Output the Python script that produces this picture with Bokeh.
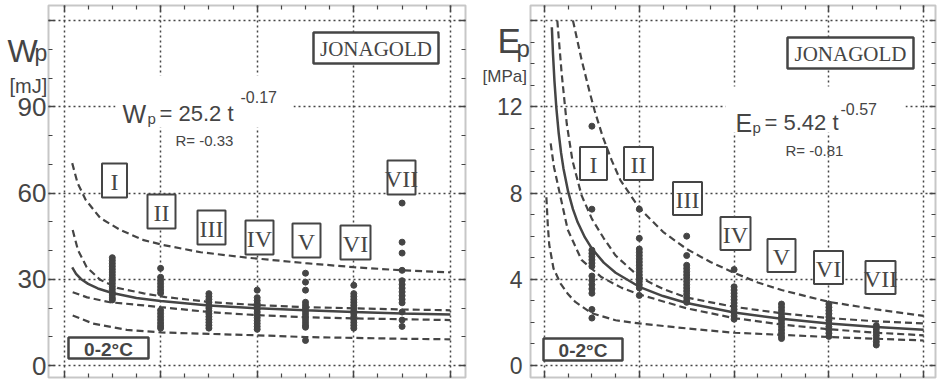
from bokeh.plotting import figure
from bokeh.layouts import row
from bokeh.models import Range1d, LinearAxis, FixedTicker, Label, BoxAnnotation, ColumnDataSource
from bokeh.core.properties import value
from bokeh.embed import file_html
from bokeh.resources import INLINE

# ---------------- data ----------------
stage_names = ["I", "II", "III", "IV", "V", "VI", "VII"]
stage_time = [1, 2, 3, 4, 5, 6, 7]

# Left: puncture energy Wp [mJ] per storage stage
wp_I = [37.5, 36.5, 35.5, 34.5, 33.5, 32.5, 31.5, 30.5, 29.5, 28.5, 27.5, 26.5, 25.5, 24.5, 23.5, 22.8]
wp_II = [33.8, 30.7, 29.6, 28.5, 27.4, 26.3, 25.2, 19.2, 18.1, 17.0, 15.9, 14.8, 13.8, 13.0]
wp_III = [25.0, 24.0, 23.0, 22.0, 21.0, 20.0, 19.0, 18.0, 17.0, 16.0, 15.0, 14.0, 13.0]
wp_IV = [26.2, 23.6, 22.6, 21.6, 20.6, 19.6, 18.6, 17.6, 16.6, 15.6, 14.6, 13.6, 12.6]
wp_V = [32.1, 29.0, 26.2, 22.0, 21.0, 20.0, 19.0, 18.0, 17.0, 16.0, 15.0, 14.0, 13.3, 8.7]
wp_VI = [27.9, 25.0, 24.0, 23.0, 22.0, 21.0, 20.0, 19.0, 18.0, 17.0, 16.0, 15.0, 14.0, 13.0]
wp_VII = [56.5, 42.9, 39.1, 33.1, 29.5, 28.2, 26.9, 25.6, 24.3, 23.0, 21.8, 18.6, 15.8, 13.6]
wp_points = [wp_I, wp_II, wp_III, wp_IV, wp_V, wp_VI, wp_VII]

# Left: fitted curve Wp = 25.2 t^-0.17 and its bands
wp_fit_t = [0.17, 0.25, 0.35, 0.5, 0.7, 1.0, 1.5, 2, 3, 4, 5, 6, 7, 8]
wp_fit = [34.1, 31.9, 30.1, 28.4, 26.8, 25.2, 23.5, 22.4, 20.9, 19.9, 19.2, 18.6, 18.1, 17.7]
wp_up_pred_t = [0.17, 0.28, 0.45, 0.75, 1.17, 1.65, 2.06, 2.83, 3.8, 5.0, 6.0, 7.0, 8.0]
wp_up_pred = [70.4, 63.5, 57.6, 51.3, 47.1, 43.6, 41.9, 39.4, 37.5, 35.6, 34.2, 33.1, 32.4]
wp_up_conf_t = [0.18, 0.29, 0.47, 0.75, 1.1, 1.65, 2.1, 3.0, 4.0, 5.0, 6.0, 7.0, 8.0]
wp_up_conf = [47.1, 40.1, 34.2, 29.8, 27.0, 25.1, 23.8, 22.1, 21.0, 20.3, 19.9, 19.5, 19.2]
wp_lo_conf_t = [0.18, 0.48, 0.95, 1.65, 2.0, 3.0, 4.0, 5.0, 6.0, 7.0, 8.0]
wp_lo_conf = [25.5, 23.7, 22.0, 20.9, 20.3, 18.6, 17.5, 16.8, 16.4, 16.1, 15.8]
wp_lo_pred_t = [0.18, 0.6, 1.3, 2.0, 3.0, 4.0, 5.0, 6.0, 7.0, 8.0]
wp_lo_pred = [17.4, 14.6, 12.4, 11.5, 11.0, 10.5, 9.9, 9.6, 9.3, 9.1]

# Right: elasticity modulus Ep [MPa] per storage stage
ep_I = [11.1, 7.25, 5.35, 5.2, 5.05, 4.9, 4.75, 4.6, 4.15, 3.95, 3.75, 3.55, 3.35, 2.6, 2.2]
ep_II = [7.25, 5.9, 5.4, 5.25, 5.1, 4.95, 4.8, 4.65, 4.5, 4.35, 4.2, 4.05, 3.9, 3.75, 3.6, 3.25]
ep_III = [6.0, 5.1, 4.65, 4.5, 4.35, 4.2, 4.05, 3.9, 3.75, 3.6, 3.45, 3.3, 3.15, 3.0, 2.93]
ep_IV = [4.45, 3.65, 3.5, 3.35, 3.2, 3.05, 2.9, 2.75, 2.6, 2.45, 2.3, 2.15]
ep_V = [2.85, 2.7, 2.55, 2.4, 2.25, 2.1, 1.95, 1.8, 1.65, 1.5, 1.35, 1.25]
ep_VI = [2.85, 2.7, 2.55, 2.4, 2.25, 2.1, 1.95, 1.8, 1.65, 1.5, 1.35]
ep_VII = [1.85, 1.7, 1.55, 1.4, 1.25, 1.1, 0.95]
ep_points = [ep_I, ep_II, ep_III, ep_IV, ep_V, ep_VI, ep_VII]

# Right: fitted curve Ep = 5.42 t^-0.57 and its bands
ep_fit_t = [0.155, 0.18, 0.21, 0.25, 0.3, 0.35, 0.4, 0.5, 0.6, 0.7, 0.85, 1.0, 1.25, 1.5, 2.0, 2.5, 3.0, 4.0, 5.0, 6.0, 7.0, 8.0]
ep_fit = [15.69, 14.41, 13.19, 11.95, 10.77, 9.86, 9.14, 8.05, 7.25, 6.64, 5.95, 5.42, 4.77, 4.30, 3.65, 3.22, 2.90, 2.46, 2.17, 1.95, 1.79, 1.66]
ep_up_pred_t = [0.6, 0.78, 0.95, 1.06, 1.23, 1.42, 1.6, 2.0, 2.5, 3.0, 3.5, 4.0, 4.5, 5.0, 6.0, 7.0, 8.0]
ep_up_pred = [16.0, 14.2, 12.7, 11.8, 10.6, 9.5, 8.6, 7.3, 6.2, 5.4, 4.8, 4.3, 3.85, 3.5, 2.95, 2.6, 2.3]
ep_up_conf_t = [0.27, 0.36, 0.47, 0.59, 0.78, 1.0, 1.25, 1.5, 2.0, 2.5, 3.0, 4.0, 5.0, 6.0, 7.0, 8.0]
ep_up_conf = [16.0, 13.6, 11.2, 9.5, 7.9, 6.8, 5.9, 5.1, 4.1, 3.55, 3.15, 2.72, 2.42, 2.2, 2.05, 1.95]
ep_lo_conf_t = [0.13, 0.2, 0.32, 0.49, 0.78, 1.2, 1.63, 2.0, 3.0, 4.0, 5.0, 6.0, 7.0, 8.0]
ep_lo_conf = [10.3, 9.2, 8.0, 6.3, 4.9, 4.1, 3.6, 3.3, 2.65, 2.2, 1.9, 1.68, 1.52, 1.4]
ep_lo_pred_t = [0.04, 0.07, 0.1, 0.19, 0.34, 0.5, 0.65, 1.0, 1.5, 2.0, 3.0, 4.0, 5.0, 6.0, 7.0, 8.0]
ep_lo_pred = [7.8, 6.5, 5.6, 4.5, 3.8, 3.3, 2.95, 2.42, 2.1, 1.95, 1.72, 1.52, 1.42, 1.32, 1.24, 1.16]

x_major = [0, 2, 4, 6, 8]
x_minor = [0.5, 1, 1.5, 2.5, 3, 3.5, 4.5, 5, 5.5, 6.5, 7, 7.5]
wp_major = [0, 30, 60, 90, 120]
wp_minor = [10, 20, 40, 50, 70, 80, 100, 110]
ep_major = [0, 4, 8, 12, 16]
ep_minor = [1, 2, 3, 5, 6, 7, 9, 10, 11, 13, 14, 15]

# ---------------- styling ----------------
INK = "#454545"
SANS = "Liberation Sans, Arial, sans-serif"
SERIF = "Liberation Serif, Times New Roman, serif"
H = 382


def make_panel(width, xr, yr, bx, by, y_major, y_minor, standoff, label_size):
    p = figure(width=width, height=H, x_range=Range1d(*xr), y_range=Range1d(*yr),
               output_backend="svg", toolbar_location=None, min_border=0)
    p.background_fill_color = "white"
    p.border_fill_color = "white"
    p.outline_line_color = None
    p.below[0].ticker = FixedTicker(ticks=x_major, minor_ticks=x_minor)
    p.below[0].fixed_location = by[0]
    p.left[0].ticker = FixedTicker(ticks=y_major, minor_ticks=y_minor)
    p.left[0].fixed_location = bx[0]
    p.add_layout(LinearAxis(ticker=FixedTicker(ticks=x_major, minor_ticks=x_minor),
                            fixed_location=by[1]), "above")
    p.add_layout(LinearAxis(ticker=FixedTicker(ticks=y_major, minor_ticks=y_minor),
                            fixed_location=bx[1]), "right")
    for ax in p.axis:
        ax.axis_line_color = None
        ax.major_tick_in = 6
        ax.major_tick_out = 0
        ax.minor_tick_in = 4
        ax.minor_tick_out = 0
        ax.major_tick_line_color = INK
        ax.minor_tick_line_color = INK
        ax.major_tick_line_width = 1.5
        ax.minor_tick_line_width = 1.2
    for ax, ticks in ((p.below[0], x_major), (p.above[0], x_major), (p.right[0], y_major)):
        ax.major_label_overrides = {t: "" for t in ticks}
        ax.major_label_text_font_size = "0px"
        ax.major_label_standoff = 0
    yax = p.left[0]
    yax.major_label_overrides = {y_major[-1]: ""}
    yax.major_label_text_font = SANS
    yax.major_label_text_font_size = label_size
    yax.major_label_text_color = INK
    yax.major_label_standoff = standoff
    p.xgrid[0].cross_bounds = by
    p.ygrid[0].cross_bounds = bx
    for g in (p.xgrid[0], p.ygrid[0]):
        g.grid_line_color = INK
        g.grid_line_dash = "2 3"
        g.grid_line_width = 1.5
    p.add_layout(BoxAnnotation(left=bx[0], right=bx[1], bottom=by[0], top=by[1],
                               fill_alpha=0, line_color=INK, line_width=2))
    return p


def draw_data(p, points, curves, solid):
    xs, ys = [], []
    for t, vals in zip(stage_time, points):
        xs += [t] * len(vals)
        ys += vals
    for ct, cv in curves:
        p.line(ct, cv, line_color=INK, line_width=2.2, line_dash="7 4")
    p.line(solid[0], solid[1], line_color=INK, line_width=2.5)
    p.scatter(xs, ys, size=6, marker="circle", fill_color=INK, line_color=INK)


def label(p, x, y, text, size, font=SANS, style="normal"):
    p.add_layout(Label(x=x, y=y, text=text, text_font=font, text_font_size=size,
                       text_font_style=style, text_color=INK, text_align="left",
                       text_baseline="alphabetic"))


def boxed(p, xs, ys, ws, hs, texts, font, size, style="normal", lw=2):
    src = ColumnDataSource(dict(x=xs, y=ys, w=ws, h=hs, t=texts))
    p.rect(x="x", y="y", width="w", height="h", width_units="screen", height_units="screen",
           source=src, fill_color="white", line_color=INK, line_width=lw)
    p.text(x="x", y="y", text="t", source=src, text_align="center", text_baseline="middle",
           text_font=value(font), text_font_size=value(size), text_font_style=style,
           text_color=INK, y_offset=1)


# ---------------- left panel (figure spans page x 0..470) ----------------
def lx(px):
    return (px - 63.5) / 48.3


def ly(py):
    return (365 - py) / 2.875


left = make_panel(470, (lx(0), lx(470)), (ly(H), ly(0)),
                  (lx(48), lx(465)), (ly(377), ly(5)),
                  wp_major, wp_minor, 2, "26px")
left.add_layout(BoxAnnotation(left=lx(115), right=lx(293), top=ly(75), bottom=ly(127),
                              fill_color="white", fill_alpha=1, line_alpha=0, level="underlay"))
draw_data(left, wp_points,
          [(wp_up_pred_t, wp_up_pred), (wp_up_conf_t, wp_up_conf),
           (wp_lo_conf_t, wp_lo_conf), (wp_lo_pred_t, wp_lo_pred)],
          (wp_fit_t, wp_fit))
boxed(left, [lx(x) for x in (114, 161, 211, 259, 306, 355, 401)],
      [ly(y) for y in (180, 211, 227, 237, 240, 242, 177)],
      [25, 28, 28, 28, 28, 30, 28], [34] * 7, stage_names, SERIF, "24px")
boxed(left, [lx(375.5)], [ly(47.5)], [125], [31], ["JONAGOLD"], SERIF, "21px", lw=2.5)
boxed(left, [lx(108)], [ly(347.5)], [80], [21], ["0-2°C"], SANS, "19px", style="bold", lw=2.5)
label(left, lx(7), ly(50), "W", "32px")
label(left, lx(34), ly(52), "p", "23px")
label(left, lx(9), ly(85), "[mJ]", "20px")
label(left, lx(122), ly(113), "W", "25px")
label(left, lx(147), ly(118), "p", "15px")
label(left, lx(159), ly(113), "= 25.2 t", "22px")
label(left, lx(240), ly(96), "-0.17", "16px")
label(left, lx(175), ly(140), "R= -0.33", "15px")


# ---------------- right panel (figure spans page x 470..937) ----------------
def rx(px):
    return (px - 544) / 47.4


def ry(py):
    return (365 - py) / 21.5625


right = make_panel(467, (rx(470), rx(937)), (ry(H), ry(0)),
                   (rx(530), rx(935)), (ry(377), ry(5)),
                   ep_major, ep_minor, 8, "23px")
right.add_layout(BoxAnnotation(left=rx(725), right=rx(905), top=ry(86), bottom=ry(132),
                               fill_color="white", fill_alpha=1, line_alpha=0, level="underlay"))
draw_data(right, ep_points,
          [(ep_up_pred_t, ep_up_pred), (ep_up_conf_t, ep_up_conf),
           (ep_lo_conf_t, ep_lo_conf), (ep_lo_pred_t, ep_lo_pred)],
          (ep_fit_t, ep_fit))
boxed(right, [rx(x) for x in (593, 638, 687, 735, 781, 828, 880)],
      [ry(y) for y in (163, 163, 198, 233, 255, 267, 277)],
      [27, 29, 29, 30, 28, 29, 30], [33] * 7, stage_names, SERIF, "24px")
boxed(right, [rx(850)], [ry(52.5)], [126], [31], ["JONAGOLD"], SERIF, "21px", lw=2.5)
boxed(right, [rx(582.5)], [ry(349)], [79], [22], ["0-2°C"], SANS, "19px", style="bold", lw=2.5)
label(right, rx(497), ry(40), "E", "35px")
label(right, rx(516), ry(48), "p", "24px")
label(right, rx(482), ry(76), "[MPa]", "17px")
label(right, rx(735), ry(122), "E", "25px")
label(right, rx(752), ry(127), "p", "15px")
label(right, rx(764), ry(122), "= 5.42 t", "22px")
label(right, rx(840), ry(108), "-0.57", "16px")
label(right, rx(785), ry(150), "R= -0.81", "15px")

layout = row(left, right)
open("out.html", "w").write(file_html(layout, INLINE))
